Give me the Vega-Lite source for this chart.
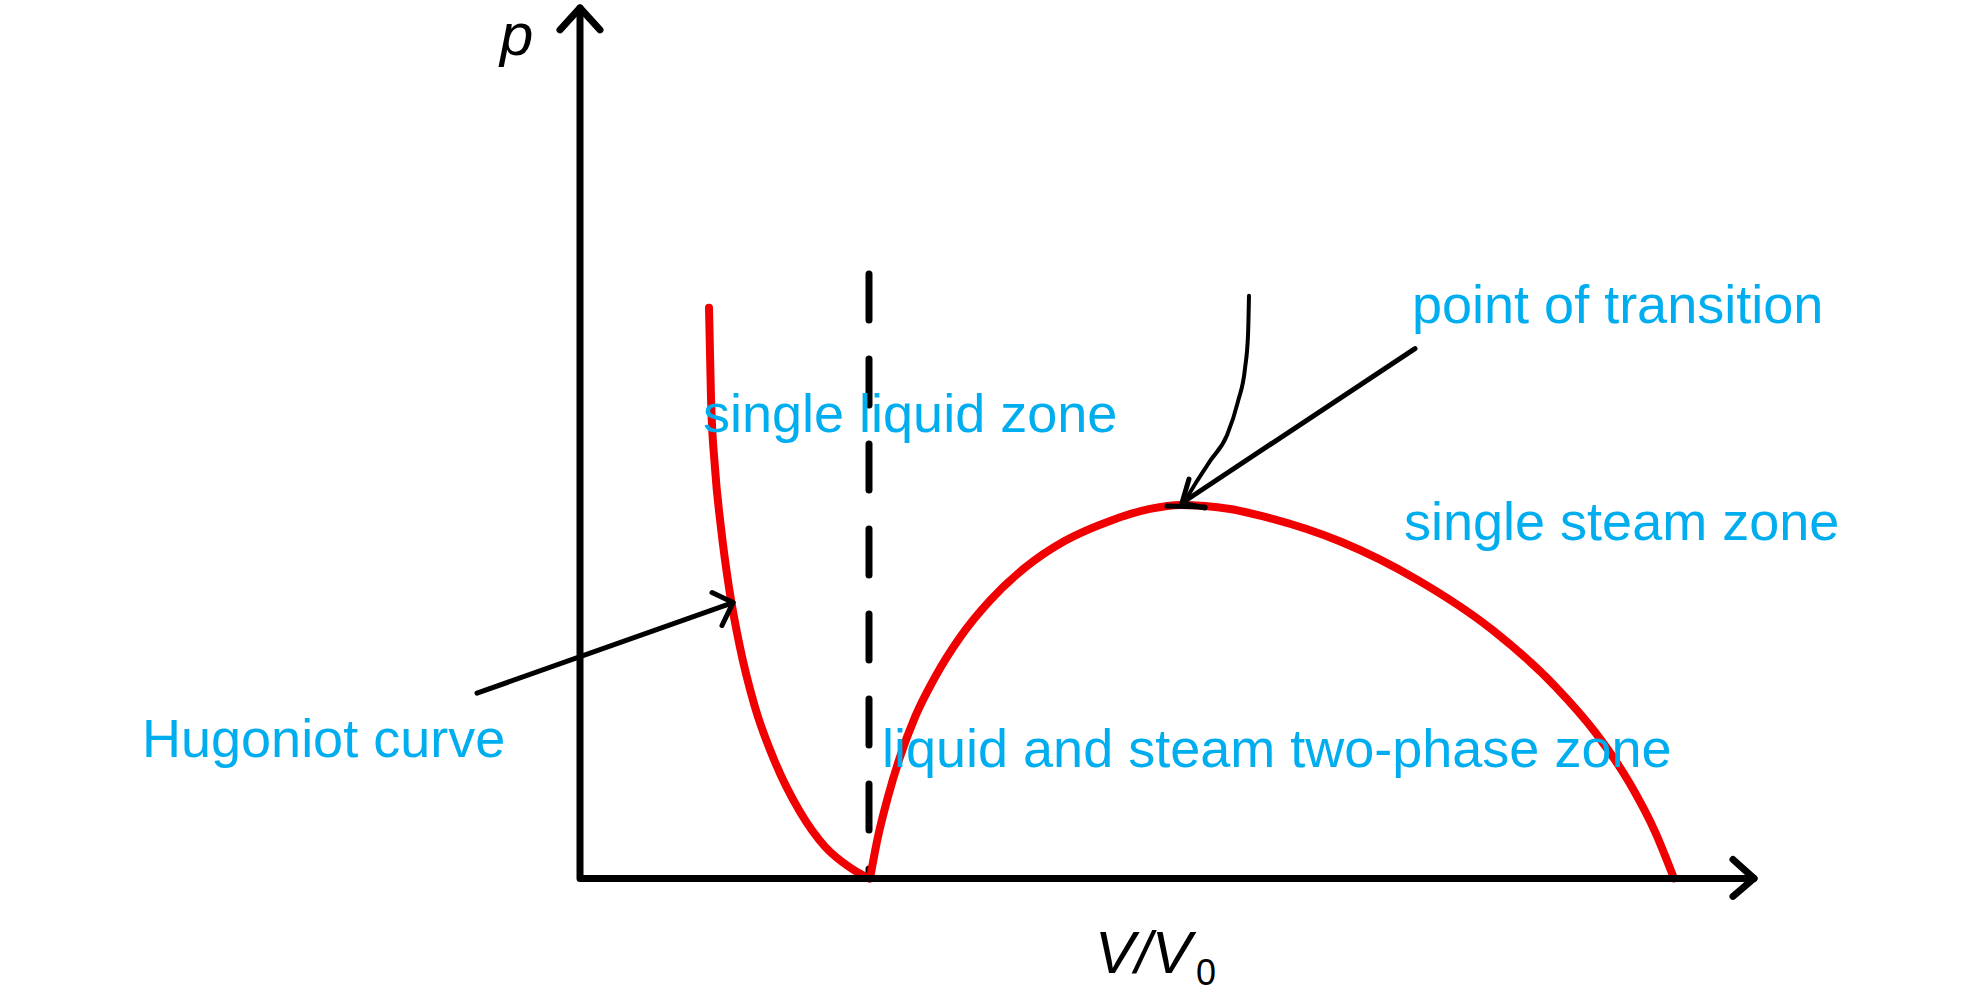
{
  "$schema": "https://vega.github.io/schema/vega-lite/v6.json",
  "width": 1984,
  "height": 992,
  "autosize": {"type": "fit", "contains": "padding"},
  "padding": 0,
  "background": "white",
  "config": {"view": {"stroke": null}},
  "datasets": {
    "lines": [
      {"s": "axes", "i": 0, "v": 0, "p": 8.74},
      {"s": "axes", "i": 1, "v": 0, "p": 0},
      {"s": "axes", "i": 2, "v": 11.74, "p": 0},
      {"s": "yhead", "i": 0, "v": -0.2, "p": 8.52},
      {"s": "yhead", "i": 1, "v": 0, "p": 8.74},
      {"s": "yhead", "i": 2, "v": 0.2, "p": 8.52},
      {"s": "xhead", "i": 0, "v": 11.53, "p": 0.19},
      {"s": "xhead", "i": 1, "v": 11.74, "p": 0},
      {"s": "xhead", "i": 2, "v": 11.53, "p": -0.18},
      {"s": "hugoniot", "i": 0, "v": 1.29, "p": 5.73},
      {"s": "hugoniot", "i": 1, "v": 1.31, "p": 4.82},
      {"s": "hugoniot", "i": 2, "v": 1.35, "p": 4.12},
      {"s": "hugoniot", "i": 3, "v": 1.41, "p": 3.52},
      {"s": "hugoniot", "i": 4, "v": 1.49, "p": 2.92},
      {"s": "hugoniot", "i": 5, "v": 1.6, "p": 2.32},
      {"s": "hugoniot", "i": 6, "v": 1.75, "p": 1.72},
      {"s": "hugoniot", "i": 7, "v": 1.95, "p": 1.17},
      {"s": "hugoniot", "i": 8, "v": 2.2, "p": 0.67},
      {"s": "hugoniot", "i": 9, "v": 2.45, "p": 0.32},
      {"s": "hugoniot", "i": 10, "v": 2.7, "p": 0.11},
      {"s": "hugoniot", "i": 11, "v": 2.89, "p": 0},
      {"s": "saturation", "i": 0, "v": 2.9, "p": 0},
      {"s": "saturation", "i": 1, "v": 2.98, "p": 0.42},
      {"s": "saturation", "i": 2, "v": 3.08, "p": 0.82},
      {"s": "saturation", "i": 3, "v": 3.2, "p": 1.22},
      {"s": "saturation", "i": 4, "v": 3.35, "p": 1.62},
      {"s": "saturation", "i": 5, "v": 3.55, "p": 2.02},
      {"s": "saturation", "i": 6, "v": 3.8, "p": 2.42},
      {"s": "saturation", "i": 7, "v": 4.1, "p": 2.79},
      {"s": "saturation", "i": 8, "v": 4.45, "p": 3.12},
      {"s": "saturation", "i": 9, "v": 4.85, "p": 3.39},
      {"s": "saturation", "i": 10, "v": 5.3, "p": 3.59},
      {"s": "saturation", "i": 11, "v": 5.7, "p": 3.71},
      {"s": "saturation", "i": 12, "v": 6.0, "p": 3.75},
      {"s": "saturation", "i": 13, "v": 6.5, "p": 3.71},
      {"s": "saturation", "i": 14, "v": 6.85, "p": 3.63},
      {"s": "saturation", "i": 15, "v": 7.61, "p": 3.38},
      {"s": "saturation", "i": 16, "v": 8.37, "p": 3.0},
      {"s": "saturation", "i": 17, "v": 9.13, "p": 2.49},
      {"s": "saturation", "i": 18, "v": 9.76, "p": 1.92},
      {"s": "saturation", "i": 19, "v": 10.15, "p": 1.47},
      {"s": "saturation", "i": 20, "v": 10.5, "p": 0.95},
      {"s": "saturation", "i": 21, "v": 10.75, "p": 0.47},
      {"s": "saturation", "i": 22, "v": 10.94, "p": 0},
      {"s": "boundary", "i": 0, "v": 2.89, "p": 6.07},
      {"s": "boundary", "i": 1, "v": 2.89, "p": 0},
      {"s": "hshaft", "i": 0, "v": -1.03, "p": 1.86},
      {"s": "hshaft", "i": 1, "v": 1.53, "p": 2.77},
      {"s": "hhead", "i": 0, "v": 1.32, "p": 2.87},
      {"s": "hhead", "i": 1, "v": 1.53, "p": 2.77},
      {"s": "hhead", "i": 2, "v": 1.42, "p": 2.54},
      {"s": "tshaft", "i": 0, "v": 8.35, "p": 5.32},
      {"s": "tshaft", "i": 1, "v": 6.02, "p": 3.77},
      {"s": "thead", "i": 0, "v": 6.09, "p": 4.01},
      {"s": "thead", "i": 1, "v": 6.02, "p": 3.77},
      {"s": "thead", "i": 2, "v": 6.25, "p": 3.72},
      {"s": "tbar", "i": 0, "v": 5.87, "p": 3.74},
      {"s": "tbar", "i": 1, "v": 6.25, "p": 3.73},
      {"s": "tcurve", "i": 0, "v": 6.69, "p": 5.85},
      {"s": "tcurve", "i": 1, "v": 6.68, "p": 5.45},
      {"s": "tcurve", "i": 2, "v": 6.65, "p": 5.12},
      {"s": "tcurve", "i": 3, "v": 6.58, "p": 4.79},
      {"s": "tcurve", "i": 4, "v": 6.47, "p": 4.45},
      {"s": "tcurve", "i": 5, "v": 6.3, "p": 4.19},
      {"s": "tcurve", "i": 6, "v": 6.17, "p": 3.99},
      {"s": "tcurve", "i": 7, "v": 6.05, "p": 3.79}
    ],
    "labels": [
      {"role": "zone", "t": "single liquid zone", "v": 1.23, "p": 4.48},
      {"role": "zone", "t": "point of transition", "v": 8.32, "p": 5.58},
      {"role": "zone", "t": "single steam zone", "v": 8.24, "p": 3.4},
      {"role": "zone", "t": "Hugoniot curve", "v": -4.38, "p": 1.22},
      {"role": "zone", "t": "liquid and steam two-phase zone", "v": 3.02, "p": 1.12},
      {"role": "title", "t": "p", "v": -0.8, "p": 8.27},
      {"role": "title", "t": "V/V", "v": 5.15, "p": -0.95},
      {"role": "sub", "t": "0", "v": 6.16, "p": -1.07}
    ]
  },
  "encoding": {
    "x": {"field": "v", "type": "quantitative", "scale": {"domain": [-5.8, 14.04], "nice": false, "zero": false}, "axis": null},
    "y": {"field": "p", "type": "quantitative", "scale": {"domain": [-1.1, 8.82], "nice": false, "zero": false}, "axis": null}
  },
  "layer": [
    {
      "data": {"name": "lines"},
      "transform": [{"filter": "datum.s === 'boundary'"}],
      "mark": {"type": "line", "color": "black", "strokeWidth": 7, "strokeCap": "round", "strokeDash": [46, 39]},
      "encoding": {"order": {"field": "i", "type": "quantitative"}}
    },
    {
      "data": {"name": "lines"},
      "transform": [{"filter": "datum.s === 'hugoniot' || datum.s === 'saturation'"}],
      "mark": {"type": "line", "color": "#f00000", "strokeWidth": 8, "strokeCap": "round", "interpolate": "monotone"},
      "encoding": {"detail": {"field": "s"}, "order": {"field": "i", "type": "quantitative"}}
    },
    {
      "data": {"name": "lines"},
      "transform": [{"filter": "datum.s === 'axes' || datum.s === 'yhead' || datum.s === 'xhead'"}],
      "mark": {"type": "line", "color": "black", "strokeWidth": 7, "strokeCap": "round", "strokeJoin": "round"},
      "encoding": {"detail": {"field": "s"}, "order": {"field": "i", "type": "quantitative"}}
    },
    {
      "data": {"name": "lines"},
      "transform": [{"filter": "datum.s === 'hshaft' || datum.s === 'hhead' || datum.s === 'tshaft' || datum.s === 'thead' || datum.s === 'tbar'"}],
      "mark": {"type": "line", "color": "black", "strokeWidth": 5, "strokeCap": "round", "strokeJoin": "round"},
      "encoding": {"detail": {"field": "s"}, "order": {"field": "i", "type": "quantitative"}}
    },
    {
      "data": {"name": "lines"},
      "transform": [{"filter": "datum.s === 'tcurve'"}],
      "mark": {"type": "line", "color": "black", "strokeWidth": 4, "strokeCap": "round", "interpolate": "monotone"},
      "encoding": {"order": {"field": "v", "type": "quantitative"}}
    },
    {
      "data": {"name": "labels"},
      "transform": [{"filter": "datum.role === 'zone'"}],
      "mark": {"type": "text", "align": "left", "baseline": "alphabetic", "font": "Liberation Sans, Arial, sans-serif", "fontSize": 54, "color": "#00aeef"},
      "encoding": {"text": {"field": "t"}}
    },
    {
      "data": {"name": "labels"},
      "transform": [{"filter": "datum.role === 'title'"}],
      "mark": {"type": "text", "align": "left", "baseline": "alphabetic", "font": "Liberation Sans, Arial, sans-serif", "fontSize": 60, "fontStyle": "italic", "color": "black"},
      "encoding": {"text": {"field": "t"}}
    },
    {
      "data": {"name": "labels"},
      "transform": [{"filter": "datum.role === 'sub'"}],
      "mark": {"type": "text", "align": "left", "baseline": "alphabetic", "font": "Liberation Sans, Arial, sans-serif", "fontSize": 36, "color": "black"},
      "encoding": {"text": {"field": "t"}}
    }
  ]
}
